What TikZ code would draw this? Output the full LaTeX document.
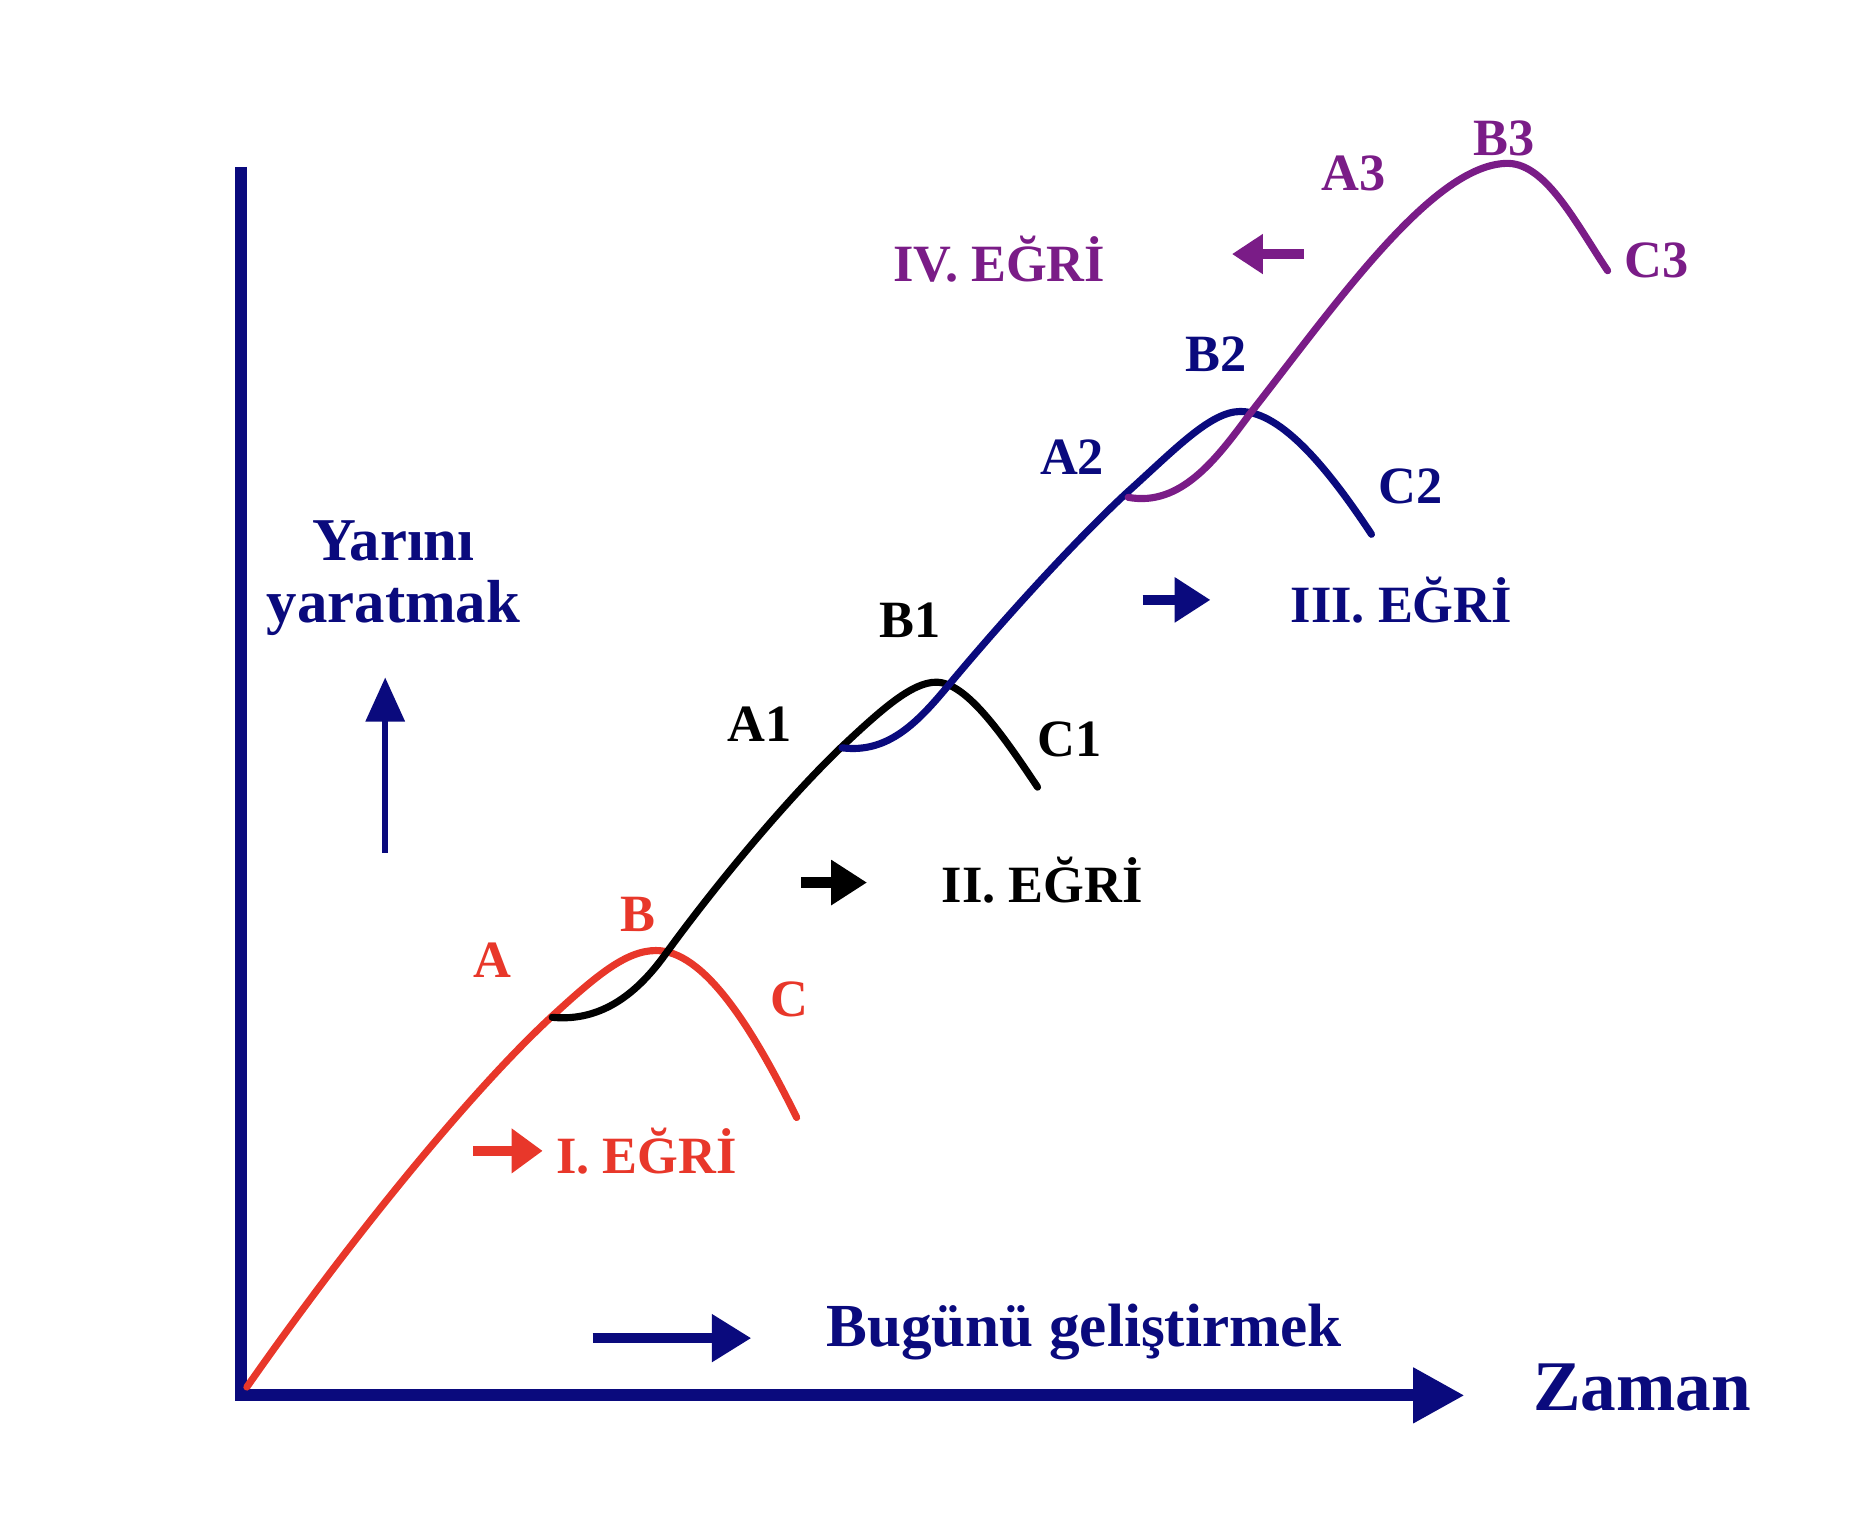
\documentclass[tikz,border=0pt]{standalone}
\usepackage{fontspec}
\setmainfont{Liberation Serif}
\usetikzlibrary{arrows.meta}
\definecolor{egrired}{RGB}{232,55,42}
\definecolor{egrinavy}{RGB}{10,10,125}
\definecolor{egripurple}{RGB}{122,28,135}

\begin{document}
\begin{tikzpicture}[x=0.1mm, y=-0.1mm,
    curve/.style={line width=1.7pt, line cap=round},
    lbl/.style={font=\bfseries\fontsize{12.5}{14}\selectfont, inner sep=0pt},
    fat/.style={line width=2.5pt}]

      \useasboundingbox (0,0) rectangle (1568,1279);

      % axes
      \coordinate (top) at (202,140);
      \coordinate (origin) at (202,1170);
      \coordinate (xend) at (1228,1170);
      \draw[egrinavy, line width=2.9pt, miter limit=10,
        -{Triangle[length=4.3mm, width=4.4mm]}] (top) -- (origin) -- (xend);

      % curves
      \draw[curve, egrired] (207,1163) .. controls (300,1030) and (400,910) .. (463,852)
        .. controls (500,818) and (525,797) .. (550,797)
        .. controls (590,797) and (630,860) .. (668,937);
      \draw[curve, black] (463,853) .. controls (505,857) and (535,832) .. (558,800)
        .. controls (600,742) and (660,670) .. (706,626)
        .. controls (740,594) and (765,572) .. (785,572)
        .. controls (810,572) and (840,615) .. (870,660);
      \draw[curve, egrinavy] (706,627) .. controls (745,632) and (770,605) .. (795,575)
        .. controls (845,515) and (905,450) .. (945,413)
        .. controls (985,377) and (1015,345) .. (1040,345)
        .. controls (1075,345) and (1115,395) .. (1150,448);
      \draw[curve, egripurple] (946,417) .. controls (990,425) and (1020,385) .. (1048,347)
        .. controls (1120,255) and (1200,140) .. (1262,137)
        .. controls (1295,135) and (1320,185) .. (1348,227);

      \begin{scope}[every node/.style={lbl}]
        \node[egrired] (a)  at (413,805) {A};
        \node[egrired] (b)  at (535,767) {B};
        \node[egrired] (c)  at (662,838) {C};
        \node (a1) at (637,607) {A1};
        \node (b1) at (763,520) {B1};
        \node (c1) at (897,620) {C1};
        \node[egrinavy] (a2) at (899,383) {A2};
        \node[egrinavy] (b2) at (1020,297) {B2};
        \node[egrinavy] (c2) at (1183,408) {C2};
        \node[egripurple] (a3) at (1135,145) {A3};
        \node[egripurple] (b3) at (1261,116) {B3};
        \node[egripurple] (c3) at (1389,218) {C3};
        \node[egrired] (e1) at (542,965) {I. EĞRİ};
        \node (e2) at (874,738) {II. EĞRİ};
        \node[egrinavy] (e3) at (1175,503) {III. EĞRİ};
        \node[egripurple] (e4) at (838,217) {IV. EĞRİ};
      \end{scope}

      \node[egrinavy, align=center, inner sep=0pt,
        font=\bfseries\fontsize{14.5}{14.7}\selectfont] (yarin) at (330,485) {Yarını\\yaratmak};
      \node[egrinavy, inner sep=0pt,
        font=\bfseries\fontsize{14.6}{16}\selectfont] (bugun) at (909,1117) {Bugünü geliştirmek};
      \node[egrinavy, inner sep=0pt,
        font=\bfseries\fontsize{17}{20}\selectfont] (zaman) at (1377,1163) {Zaman};

      % small arrows
      \coordinate (u1) at (323,715);
      \coordinate (u2) at (323,568);
      \draw[egrinavy, line width=1.4pt, -{Triangle[length=3.7mm, width=3.2mm]}] (u1) -- (u2);
      \coordinate (g1) at (497,1122);
      \coordinate (g2) at (630,1122);
      \draw[egrinavy, fat, -{Triangle[length=3.3mm, width=3.8mm]}] (g1) -- (g2);
      \coordinate (r1) at (397,965);
      \coordinate (r2) at (455,965);
      \draw[egrired, fat, -{Triangle[length=2.6mm, width=3.6mm]}] (r1) -- (r2);
      \coordinate (k1) at (672,740);
      \coordinate (k2) at (727,740);
      \draw[black, fat, -{Triangle[length=3mm, width=3.6mm]}] (k1) -- (k2);
      \coordinate (n1) at (958,503);
      \coordinate (n2) at (1015,503);
      \draw[egrinavy, fat, -{Triangle[length=3mm, width=3.6mm]}] (n1) -- (n2);
      \coordinate (p1) at (1093,213);
      \coordinate (p2) at (1033,213);
      \draw[egripurple, fat, -{Triangle[length=2.6mm, width=3.2mm]}] (p1) -- (p2);

    \end{tikzpicture}
\end{document}
